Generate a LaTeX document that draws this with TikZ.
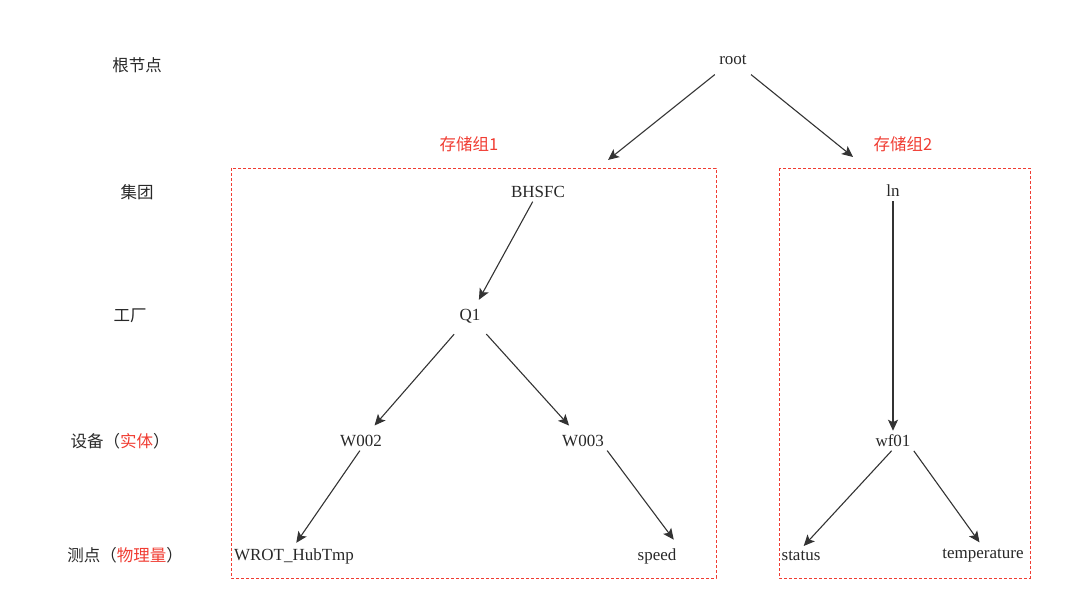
\documentclass[tikz,border=0pt]{standalone}
\usepackage{fontspec}
\setmainfont{Liberation Serif}
\newfontfamily\cjk{Noto Sans CJK SC}
\usetikzlibrary{arrows.meta}
\definecolor{grpred}{RGB}{240,60,50}
\definecolor{txtgray}{RGB}{40,40,40}
\begin{document}
\begin{tikzpicture}[
  x=1pt, y=-1pt,
  level/.style={font=\cjk\fontsize{16.5}{19}\selectfont, text=txtgray},
  item/.style={font=\fontsize{17}{19}\selectfont, text=txtgray, inner sep=2pt},
  group/.style={font=\cjk\fontsize{16.5}{19}\selectfont, text=grpred},
  box/.style={draw=grpred, dash pattern=on 3pt off 2pt, line width=1pt},
  link/.style={-{Stealth[length=11pt,width=10pt,inset=2.5pt]}, line width=1.1pt, draw=black!80}
]
  \useasboundingbox (0,0) rectangle (1080,602);

  % Levels
  \node[level] (l0) at (137,65) {根节点};
  \node[level] (l1) at (137,192) {集团};
  \node[level] (l2) at (130,316) {工厂};
  \node[level] (l3) at (120,441) {设备（\textcolor{grpred}{实体}）};
  \node[level] (l4) at (125,555) {测点（\textcolor{grpred}{物理量}）};

  % Storage groups
  \draw[box] (231,168) rectangle (716,578);
  \draw[box] (779,168) rectangle (1030,578);
  \node[group] (g1) at (469,144) {存储组1};
  \node[group] (g2) at (903,144) {存储组2};
  \coordinate (g1in) at (608,160);
  \coordinate (g2in) at (853,157);

  % Tree
  \node[item] (root) at (733,60) {root};
  \node[item] (bhsfc) at (538,192) {BHSFC};
  \node[item] (q1) at (470,316) {Q1};
  \node[item] (w002) at (361,441) {W002};
  \node[item] (w003) at (583,441) {W003};
  \node[item] (hub) at (294,556) {WROT\_HubTmp};
  \node[item] (speed) at (657,556) {speed};
  \node[item] (ln) at (893,191) {ln};
  \node[item] (wf01) at (893,441) {wf01};
  \node[item] (status) at (801,556) {status};
  \node[item] (temp) at (983,556) {temperature};

  % Edges
  \draw[link, shorten <=12pt] (root) -- (g1in);
  \draw[link, shorten <=12pt] (root) -- (g2in);
  \draw[link, shorten <=2pt, shorten >=8pt] (bhsfc) -- (q1);
  \draw[link, shorten <=12pt, shorten >=10pt] (q1) -- (w002);
  \draw[link, shorten <=12pt, shorten >=10pt] (q1) -- (w003);
  \draw[link, shorten <=2pt, shorten >=4pt] (w002.south) -- (hub.north);
  \draw[link, shorten <=2pt, shorten >=8pt] (w003.south east) -- (speed.north east);
  \draw[link, shorten <=2pt, shorten >=2pt] (ln) -- (wf01);
  \draw[link, shorten <=2pt, shorten >=4pt] (wf01.south) -- (status.north);
  \draw[link, shorten <=2pt, shorten >=6pt] (wf01.south east) -- (temp.north);
\end{tikzpicture}
\end{document}
